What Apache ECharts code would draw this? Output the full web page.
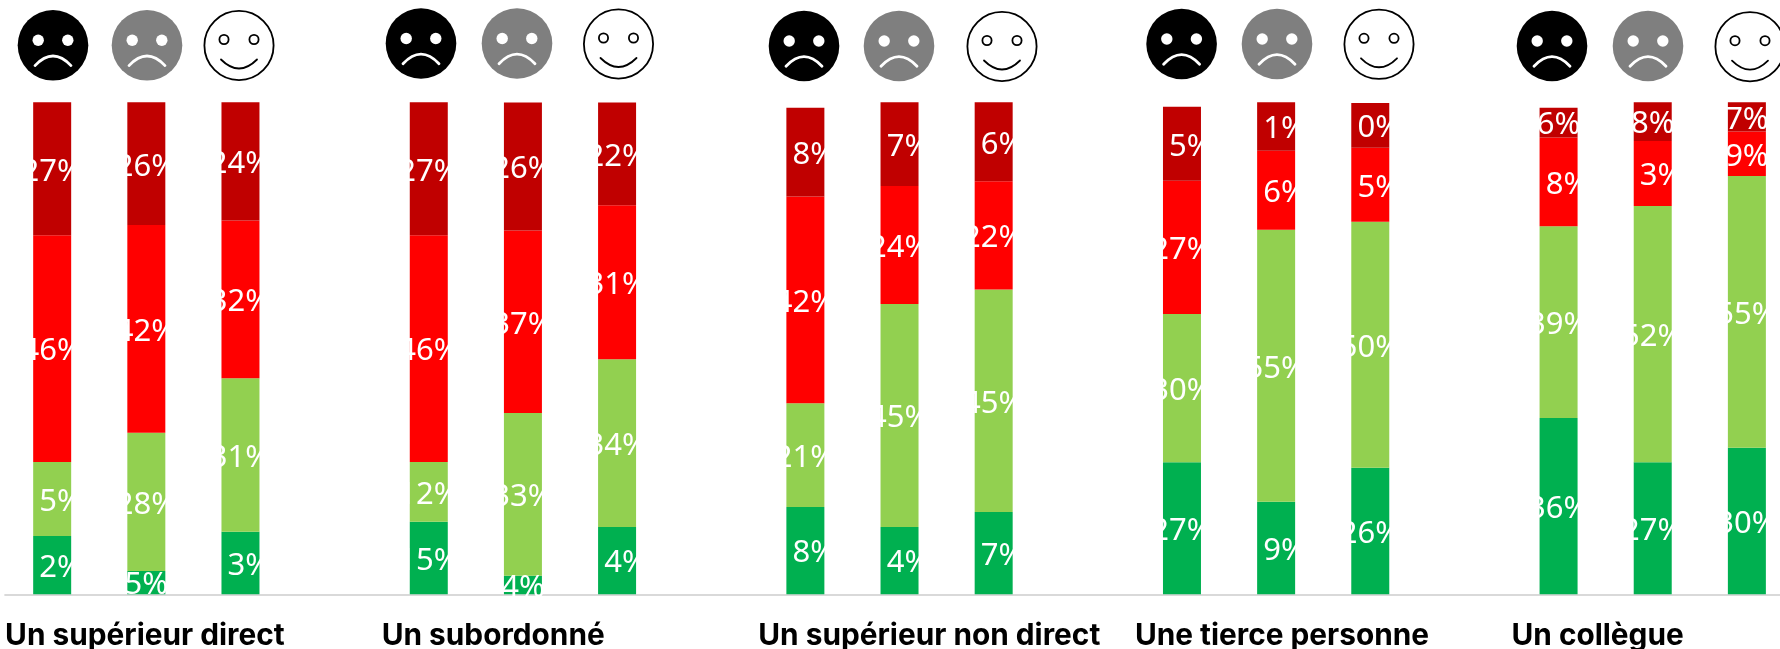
<!DOCTYPE html>
<html><head><meta charset="utf-8">
<style>html,body{margin:0;padding:0;background:#fff}#c{width:1780px;height:649px}</style>
<script src="https://cdn.jsdelivr.net/npm/echarts@6/dist/echarts.min.js"></script>
</head><body><div id="c"></div>
<script>
// Top-level data: each array has 15 bars (3 per group, 5 groups): unhappy, neutral, happy
const groups = ["Un supérieur direct","Un subordonné","Un supérieur non direct","Une tierce personne","Un collègue"];
const darkGreenValues  = [11.85,4.74,12.7, 14.76,3.78,13.68, 17.74,13.68,16.73, 26.83,18.8,25.7, 35.83,26.83,29.8];
const lightGreenValues = [15.04,28.1,31.2, 12.13,33.07,34.1, 21.1,45.3,45.2, 30.15,55.3,50.0, 39.0,52.1,55.2];
const redValues        = [46.08,42.2,32.1, 46.08,37.1,31.3, 42.0,24.0,22.03, 27.1,16.06,15.04, 18.03,13.2,9.07];
const darkRedValues    = [27.03,25.0,24.0, 27.03,26.0,20.9, 18.07,17.07,16.06, 15.0,9.96,9.1, 6.04,7.87,5.97];
const darkGreenLabels  = [12,5,13, 15,4,14, 18,14,17, 27,19,26, 36,27,30];
const lightGreenLabels = [15,28,31, 12,33,34, 21,45,45, 30,55,50, 39,52,55];
const redLabels        = [46,42,32, 46,37,31, 42,24,22, 27,16,15, 18,13,9];
const darkRedLabels    = [27,26,24, 27,26,22, 18,17,16, 15,11,10, 6,8,7];

// One empty slot separates groups
const SLOTS = 19;
const slotNames = [];
const toSlots = arr => {
  const out = [];
  arr.forEach((v, i) => { out.push(v); if (i % 3 === 2 && i < arr.length - 1) out.push(null); });
  return out;
};
groups.forEach((g, gi) => {
  ["-","=","+"].forEach(m => slotNames.push(g + " " + m));
  if (gi < groups.length - 1) slotNames.push("");
});

const mkSeries = (name, values, labels, color) => {
  const lab = toSlots(labels);
  return {
    name, type: 'bar', stack: 'total', xAxisIndex: 0, barWidth: 38,
    itemStyle: { color },
    data: toSlots(values),
    label: {
      show: true, position: 'inside', color: '#fff', offset: [0, 3],
      fontFamily: 'Noto Sans', fontSize: 31,
      formatter: p => lab[p.dataIndex] + '%'
    },
    animation: false
  };
};

// Smiley pictograms above each group
const faceCenters = [
  [[53,45.3],[147,45.3],[239,45.5]],
  [[421,43.5],[517,43.5],[618.5,44]],
  [[804,46],[899,46],[1002,46.5]],
  [[1181.6,44],[1277,44],[1379,44.3]],
  [[1552,46],[1648,46],[1750,46.7]]
];
const R = 35.3;
const sadFace = (cx, cy, fill) => ({
  type: 'group', x: cx, y: cy, silent: true,
  children: [
    { type: 'circle', shape: { cx: 0, cy: 0, r: R }, style: { fill } },
    { type: 'circle', shape: { cx: -14.8, cy: -5, r: 5.7 }, style: { fill: '#fff' } },
    { type: 'circle', shape: { cx: 14.8, cy: -5, r: 5.7 }, style: { fill: '#fff' } },
    { type: 'bezierCurve', shape: { x1: -18, y1: 20.3, x2: 18, y2: 20.3, cpx1: 0, cpy1: 1.1 },
      style: { fill: 'none', stroke: '#fff', lineWidth: 2.8, lineCap: 'round' } }
  ]
});
const happyFace = (cx, cy) => ({
  type: 'group', x: cx, y: cy, silent: true,
  children: [
    { type: 'circle', shape: { cx: 0, cy: 0, r: R - 0.7 }, style: { fill: '#fff', stroke: '#000', lineWidth: 1.8 } },
    { type: 'circle', shape: { cx: -15, cy: -6, r: 4.6 }, style: { fill: '#fff', stroke: '#000', lineWidth: 1.8 } },
    { type: 'circle', shape: { cx: 15, cy: -6, r: 4.6 }, style: { fill: '#fff', stroke: '#000', lineWidth: 1.8 } },
    { type: 'bezierCurve', shape: { x1: -18, y1: 14, x2: 18, y2: 14, cpx1: 0, cpy1: 32 },
      style: { fill: 'none', stroke: '#000', lineWidth: 1.8, lineCap: 'round' } }
  ]
});
const faces = [];
faceCenters.forEach(g => {
  faces.push(sadFace(g[0][0], g[0][1], '#000'));
  faces.push(sadFace(g[1][0], g[1][1], '#7F7F7F'));
  faces.push(happyFace(g[2][0], g[2][1]));
});

const chart = echarts.init(document.getElementById('c'), null, { renderer: 'canvas' });
chart.setOption({
  backgroundColor: '#fff',
  animation: false,
  grid: { left: 5.1, top: 102.3, width: 1788.85, height: 492, containLabel: false, outerBoundsMode: 'none' },
  xAxis: [
    { type: 'category', data: slotNames, position: 'bottom',
      axisLine: { show: true, lineStyle: { color: '#D9D9D9', width: 2 } },
      axisTick: { show: false }, axisLabel: { show: false }, splitLine: { show: false } },
    { type: 'value', min: 0, max: SLOTS, interval: 4, position: 'bottom',
      axisLine: { show: false }, axisTick: { show: false }, splitLine: { show: false },
      axisLabel: {
        show: true, showMaxLabel: false, hideOverlap: false, align: 'left', margin: 27,
        color: '#000', fontFamily: 'Inter', fontWeight: 700, fontSize: 29.8,
        formatter: v => groups[v / 4] || ''
      } }
  ],
  yAxis: { type: 'value', min: 0, max: 100, show: false },
  series: [
    mkSeries('Vert foncé', darkGreenValues, darkGreenLabels, '#00B050'),
    mkSeries('Vert clair', lightGreenValues, lightGreenLabels, '#92D050'),
    mkSeries('Rouge', redValues, redLabels, '#FF0000'),
    mkSeries('Rouge foncé', darkRedValues, darkRedLabels, '#C00000')
  ],
  graphic: { elements: faces }
});
</script></body></html>
